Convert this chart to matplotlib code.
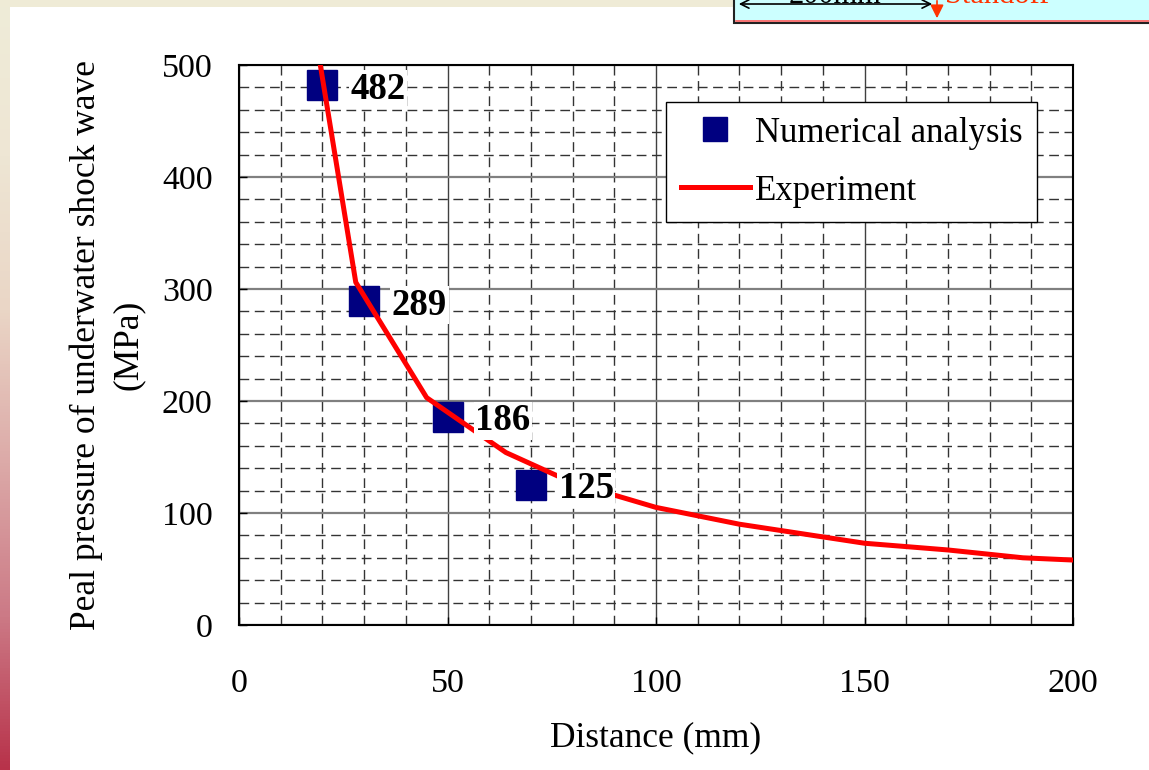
import numpy as np
import matplotlib
matplotlib.use('Agg')
import matplotlib.pyplot as plt
from matplotlib.ticker import MultipleLocator
from matplotlib.patches import Rectangle, FancyArrowPatch
from matplotlib.colors import LinearSegmentedColormap

plt.rcParams['font.family'] = ['Liberation Serif', 'DejaVu Serif']

# Simulated peak pressure (MPa) at standoff distance (mm)
sim_distance = [20, 30, 50, 70]
sim_pressure = [482, 289, 186, 125]

# Measured peak pressure curve
exp_distance = [19.5, 28, 45, 64, 80, 100, 120, 150, 170, 188, 200]
exp_pressure = [500, 306, 203, 154, 127, 105, 90, 73, 67, 60, 58]

x_ticks = [0, 50, 100, 150, 200]
y_ticks = [0, 100, 200, 300, 400, 500]

W, H = 1149, 770
fig = plt.figure(figsize=(W / 100, H / 100), dpi=100)
fig.patch.set_facecolor('white')

# ---- slide background decoration (pixel coordinates) ----
bg = fig.add_axes([0, 0, 1, 1], zorder=-10)
bg.axis('off')
side = LinearSegmentedColormap.from_list(
    'side', ['#efecd8', '#eee6d4', '#ead6c6', '#dcaaa8', '#cc7a86', '#b8324a'])
grad = np.linspace(0, 1, 256)[:, None]
bg.imshow(grad, extent=(0, 10, H, 0), cmap=side, aspect='auto', origin='upper')
bg.add_patch(Rectangle((0, 0), 734, 7, color='#efebd6', lw=0))
bg.add_patch(Rectangle((734, -5), W - 734 + 5, 28, fc='#ccffff', ec='#222222', lw=1.5))
bg.plot([736, W], [21, 21], color='#ff5a5a', lw=1.2)
bg.add_patch(FancyArrowPatch((736, 4), (935, 4), arrowstyle='<->,head_length=6,head_width=3',
                             color='black', lw=1.2, mutation_scale=1))
bg.add_patch(FancyArrowPatch((937, -2), (937, 21), arrowstyle='-|>,head_length=8,head_width=4',
                             color='#ff3300', lw=1.2, mutation_scale=1))
bg.text(835, 3, '200mm', fontsize=22, ha='center', va='baseline', color='black')
bg.text(945, 3, 'Standoff', fontsize=22, ha='left', va='baseline', color='#ff3300')
bg.set_xlim(0, W)
bg.set_ylim(H, 0)

# ---- main chart ----
ax = fig.add_axes([239 / W, 1 - 625 / H, 834 / W, 560 / H])
ax.set_xlim(0, 200)
ax.set_ylim(0, 500)

h_exp, = ax.plot(exp_distance, exp_pressure, color='#ff0000', lw=3.6, zorder=3,
                 label='Experiment')
h_sim, = ax.plot(sim_distance, sim_pressure, 's', color='#000080', mec='#000080',
                 ms=21, zorder=2.6, label='Numerical analysis')

for xv, yv in zip(sim_distance, sim_pressure):
    ax.annotate(f'{yv}', (xv, yv), xytext=(20, 0), textcoords='offset points',
                fontsize=26.5, fontweight='bold', ha='left', va='center_baseline',
                bbox=dict(fc='white', ec='none', pad=1), zorder=5,
                annotation_clip=False)

ax.xaxis.set_major_locator(MultipleLocator(50))
ax.xaxis.set_minor_locator(MultipleLocator(10))
ax.yaxis.set_major_locator(MultipleLocator(100))
ax.yaxis.set_minor_locator(MultipleLocator(20))
ax.set_xticks(x_ticks)
ax.set_yticks(y_ticks)

ax.set_axisbelow(True)
ax.grid(which='major', axis='y', color='#808080', lw=1.6, ls='-')
ax.grid(which='major', axis='x', color='#404040', lw=1.0, ls='-')
ax.grid(which='minor', color='#333333', lw=1.0, ls=(0, (7, 4)))

ax.tick_params(which='major', direction='in', length=6, width=1, labelsize=24.5)
ax.tick_params(which='minor', length=0)
ax.tick_params(axis='x', pad=31)
ax.tick_params(axis='y', pad=19)

for s in ax.spines.values():
    s.set_linewidth(1.5)
    s.set_color('black')

ax.set_xlabel('Distance (mm)', fontsize=25.5)
ax.xaxis.set_label_coords(0.5, -0.172)
ax.set_ylabel('Peal pressure of underwater shock wave\n(MPa)', fontsize=25.5,
              linespacing=1.35)
ax.yaxis.set_label_coords(-0.113, 0.5)

leg = ax.legend(handles=[h_sim, h_exp], loc='upper left', bbox_to_anchor=(0.512, 0.934),
                borderaxespad=0, frameon=True, fancybox=False, edgecolor='black',
                framealpha=1, fontsize=25, borderpad=0.42, labelspacing=0.72,
                handlelength=2.0, handletextpad=0.15, markerscale=0.83)
leg.get_frame().set_linewidth(1.0)
leg.set_zorder(6)

fig.savefig('out.png', dpi=100, facecolor=fig.get_facecolor())
